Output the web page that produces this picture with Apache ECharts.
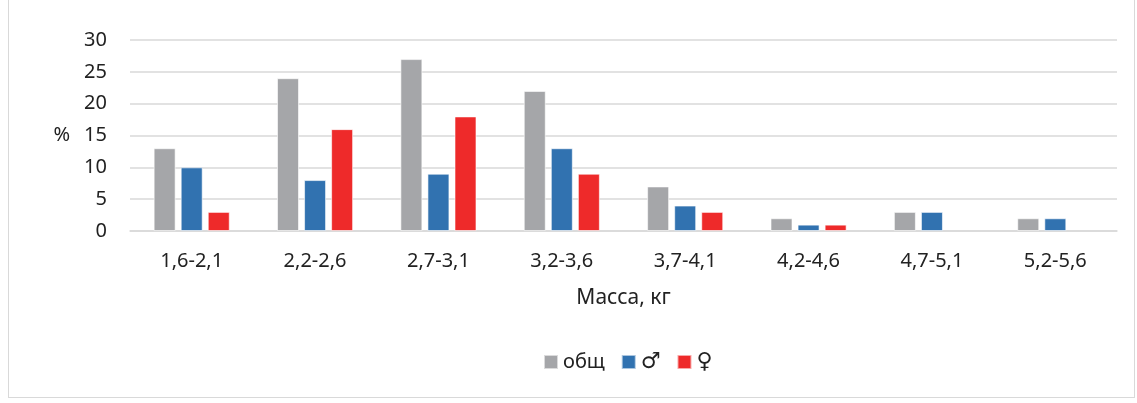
<!DOCTYPE html>
<html><head><meta charset="utf-8">
<script src="https://cdn.jsdelivr.net/npm/echarts@6/dist/echarts.min.js"></script>
<style>
html,body{margin:0;padding:0;background:#fff;}
#frame{position:absolute;left:8px;top:-2px;width:1127px;height:400px;border:1.5px solid #d9d9d9;box-sizing:border-box;}
#c{position:absolute;left:0;top:0;width:1137px;height:403px;}
</style></head>
<body>
<div id="frame"></div>
<div id="c"></div>
<script>
const categories = ['1,6-2,1','2,2-2,6','2,7-3,1','3,2-3,6','3,7-4,1','4,2-4,6','4,7-5,1','5,2-5,6'];
const seriesNames = ['общ','♂','♀'];
const totalVals = [13,24,27,22,7,2,3,2];
const maleVals = [10,8,9,13,4,1,3,2];
const femaleVals = [3,16,18,9,3,1,null,null];
const yTicks = [0,5,10,15,20,25,30];
const colors = ['#A5A6A9','#3172B0','#EE2A2A'];

const font = "'Noto Sans', 'Open Sans', sans-serif";
const chart = echarts.init(document.getElementById('c'));
const data = [totalVals, maleVals, femaleVals];
chart.setOption({
  animation:false,
  textStyle:{fontFamily:font},
  grid:{left:130,right:20,top:40,bottom:172,containLabel:false},
  legend:{
    bottom:25, left:538, itemWidth:14, itemHeight:14, itemGap:16,
    icon:'rect',
    formatter:n => n==='общ' ? n : '{sym|'+n+'}',
    textStyle:{fontSize:20,color:'#222',fontFamily:font,
      rich:{sym:{fontSize:22,fontFamily:'DejaVu Sans',color:'#222'}}},
    data:seriesNames
  },
  xAxis:{
    type:'category', data:categories,
    name:'Масса, кг', nameLocation:'middle', nameGap:57,
    nameTextStyle:{fontSize:21,color:'#222'},
    axisLine:{lineStyle:{color:'#d9d9d9',width:1.5}},
    axisTick:{show:false},
    axisLabel:{fontSize:20,color:'#222',margin:20}
  },
  yAxis:{
    type:'value', min:0, max:30, interval:5,
    name:'%', nameLocation:'middle', nameRotate:0, nameGap:60,
    nameTextStyle:{fontSize:20,color:'#222'},
    axisLine:{show:false}, axisTick:{show:false},
    axisLabel:{fontSize:20,color:'#222',margin:23,
      formatter:v=>yTicks.includes(v)?String(v):''},
    splitLine:{lineStyle:{color:'#d9d9d9',width:1.5}}
  },
  series: seriesNames.map((n,i)=>({
    name:n, type:'bar', data:data[i], barWidth:22, barGap:'23%',
    itemStyle:{color:colors[i],borderColor:'rgba(255,255,255,0.6)',borderWidth:1}
  }))
});
</script>
</body></html>
